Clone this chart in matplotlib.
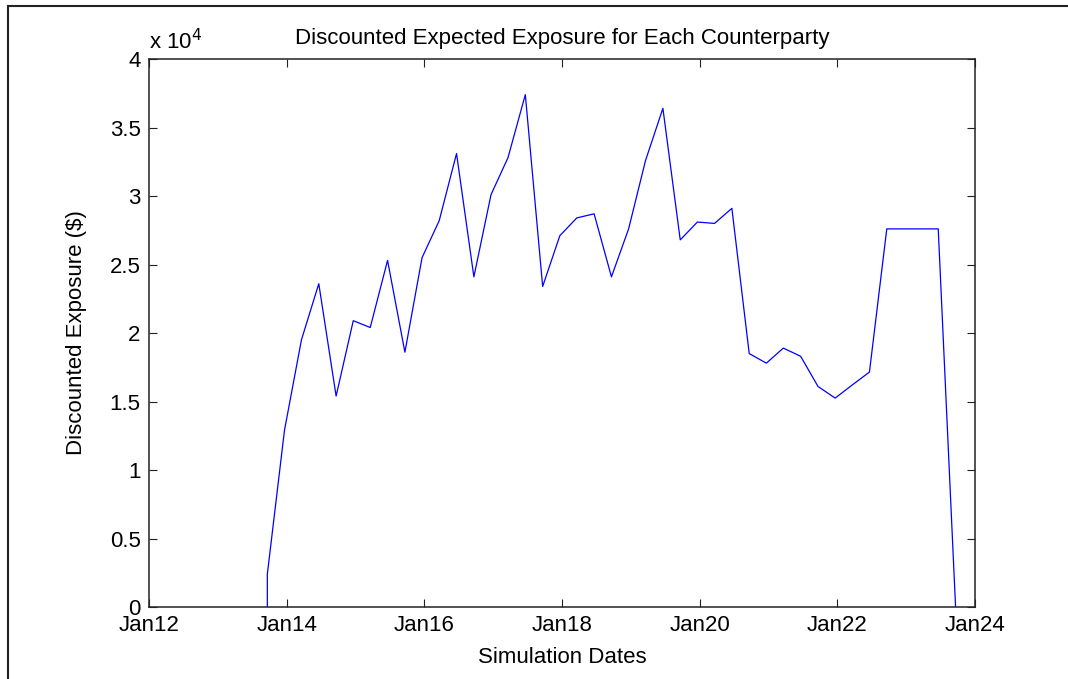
import matplotlib
matplotlib.use("Agg")
import matplotlib.pyplot as plt
import matplotlib.dates as mdates
from matplotlib.ticker import FuncFormatter, MultipleLocator
from matplotlib.patches import Rectangle
import pandas as pd
from datetime import datetime

plt.rcParams['font.family'] = ['Liberation Sans', 'DejaVu Sans']

# quarterly simulation dates, the first date appears twice (settle + first sim)
sim_dates = [datetime(2013, 9, 20)] + list(
    pd.date_range("2013-09-20", periods=41, freq=pd.DateOffset(months=3)).to_pydatetime())
exposure = [0, 2400, 12900, 19500, 23600, 15400, 20900, 20400, 25300, 18600,
            25500, 28200, 33100, 24100, 30100, 32800, 37400, 23400, 27100,
            28400, 28700, 24100, 27600, 32600, 36400, 26800, 28100, 28000,
            29100, 18500, 17800, 18900, 18300, 16100, 15250, 16200, 17150,
            27600, 27600, 27600, 27600, 0]

fs = 16

fig = plt.figure(figsize=(10.68, 6.79), dpi=100)
ax = fig.add_axes([0.1395, 0.106, 0.7734, 0.8071])

ax.plot(sim_dates, exposure, color='blue', linewidth=0.9)

ax.set_xlim(datetime(2012, 1, 1), datetime(2024, 1, 1))
ax.set_ylim(0, 40000)
ax.xaxis.set_major_locator(mdates.YearLocator(2))
ax.xaxis.set_major_formatter(mdates.DateFormatter('Jan%y'))
ax.yaxis.set_major_locator(MultipleLocator(5000))
ax.yaxis.set_major_formatter(FuncFormatter(lambda v, p: f"{v / 1e4:g}"))

ax.tick_params(direction='in', length=6, width=0.8, top=True, right=True,
               labelsize=fs, colors='#222222', labelcolor='black')
ax.tick_params(axis='x', pad=6)
ax.tick_params(axis='y', pad=6)
for s in ax.spines.values():
    s.set_linewidth(1.1)
    s.set_color('#222222')

ax.text(0.0, 1.008, r"x 10$^4$", transform=ax.transAxes, fontsize=fs,
        ha='left', va='bottom')
ax.set_title("Discounted Expected Exposure for Each Counterparty",
             fontsize=fs, pad=11)
ax.set_xlabel("Simulation Dates", fontsize=fs, labelpad=8)
ax.set_ylabel("Discounted Exposure (\\$)", fontsize=fs, labelpad=16)

# outer border (left and top edges visible)
fig.add_artist(Rectangle((8 / 1068, -0.1), 1.2, 1.1 - 6 / 679,
                         transform=fig.transFigure, fill=False,
                         edgecolor='#222222', linewidth=1.5))

fig.savefig("out.png", dpi=100)
